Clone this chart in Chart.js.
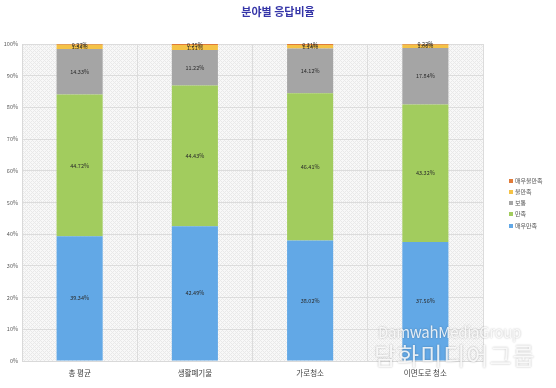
<!DOCTYPE html>
<html><head><meta charset="utf-8">
<script src="https://cdn.jsdelivr.net/npm/chart.js@4/dist/chart.umd.min.js"></script>
<style>
html,body{margin:0;padding:0;background:#fff;}
#wrap{position:relative;width:556px;height:388px;}
#wm1,#wm2{position:absolute;font-family:"Noto Sans CJK KR","Noto Sans",sans-serif;color:rgba(255,255,255,0.85);text-shadow:0 0 2px rgba(0,0,0,0.3);white-space:nowrap;}
#wm1{left:378px;top:321px;font-size:15px;letter-spacing:-0.3px;}
#wm2{left:374px;top:337px;font-size:24px;letter-spacing:1px;}
</style></head>
<body><div id="wrap"><canvas id="c" width="556" height="388"></canvas>
<div id="wm1">DamwahMediaGroup</div><div id="wm2">담화미디어그룹</div></div>
<script>
const categories = ['총 평균','생활폐기물','가로청소','이면도로 청소'];
const seriesNames = ['매우만족','만족','보통','불만족','매우불만족'];
const verySatisfied = [39.34, 42.49, 38.02, 37.56];
const satisfied = [44.72, 44.43, 46.41, 43.32];
const neutral = [14.33, 11.22, 14.12, 17.84];
const dissatisfied = [1.34, 1.51, 1.14, 1.06];
const veryDissatisfied = [0.27, 0.35, 0.31, 0.22];
const colors = ['#62A8E6','#A2CC5E','#A5A5A5','#F4C246','#E07B39'];
const title = '분야별 응답비율';

const values = [verySatisfied, satisfied, neutral, dissatisfied, veryDissatisfied];
const FONT = '"Noto Sans CJK KR","Noto Sans",sans-serif';

const bgPlugin = {
  id:'bg',
  beforeDraw(chart){
    const {ctx, chartArea:a} = chart;
    const p = document.createElement('canvas'); p.width=4; p.height=4;
    const pc = p.getContext('2d');
    pc.fillStyle='#f8f8f8'; pc.fillRect(0,0,4,4);
    pc.fillStyle='#e9e9e9';
    pc.fillRect(0,0,1,1); pc.fillRect(1,1,1,1); pc.fillRect(2,2,1,1); pc.fillRect(3,3,1,1);
    pc.fillRect(3,1,1,1); pc.fillRect(1,3,1,1);
    ctx.save();
    ctx.fillStyle = ctx.createPattern(p,'repeat');
    ctx.fillRect(a.left,a.top,a.right-a.left,a.bottom-a.top);
    ctx.restore();
  },
  afterDraw(chart){
    const {ctx} = chart;
    ctx.save();
    ctx.font = 'bold 11px ' + FONT;
    ctx.fillStyle = '#3535A8';
    ctx.textAlign='center'; ctx.textBaseline='middle';
    ctx.fillText(title, 278, 12);
    ctx.font = '5.5px ' + FONT;
    ctx.fillStyle = '#2a2a2a';
    chart.data.datasets.forEach((ds,i)=>{
      const meta = chart.getDatasetMeta(i);
      meta.data.forEach((bar,j)=>{
        const y = (bar.y + bar.base)/2;
        ctx.fillText(ds.data[j].toFixed(2)+'%', bar.x, y);
      });
    });
    ctx.textAlign='left';
    ctx.font = '6px ' + FONT;
    const ys = [181,192,203,214,226];
    for(let k=0;k<5;k++){
      const idx = 4-k;
      ctx.fillStyle = colors[idx];
      ctx.fillRect(509, ys[k]-2, 4, 4);
      ctx.fillStyle = '#595959';
      ctx.fillText(seriesNames[idx], 515, ys[k]);
    }
    ctx.restore();
  }
};

new Chart(document.getElementById('c'), {
  type:'bar',
  data:{
    labels: categories,
    datasets: seriesNames.map((n,i)=>({
      label:n, data:values[i], backgroundColor:colors[i], borderWidth:0,
      barPercentage:0.4, categoryPercentage:1
    }))
  },
  options:{
    responsive:false, animation:false,
    layout:{padding:{top:44,right:73,left:0,bottom:0}},
    plugins:{legend:{display:false}, title:{display:false}, tooltip:{enabled:false}},
    scales:{
      x:{stacked:true,
        grid:{color:'#dcdcdc', drawTicks:false, offset:true, lineWidth:1},
        border:{color:'#d9d9d9'},
        ticks:{font:{size:7.5,family:FONT}, color:'#404040', padding:8},
        afterFit(s){s.height=27;}
      },
      y:{stacked:true, min:0, max:100,
        grid:{color:'#dcdcdc', drawTicks:false},
        border:{color:'#d9d9d9'},
        ticks:{stepSize:10, font:{size:5.5,family:FONT}, color:'#595959', padding:4,
          callback:v=>v+'%'},
        afterFit(s){s.width=22;}
      }
    }
  },
  plugins:[bgPlugin]
});
</script></body></html>
